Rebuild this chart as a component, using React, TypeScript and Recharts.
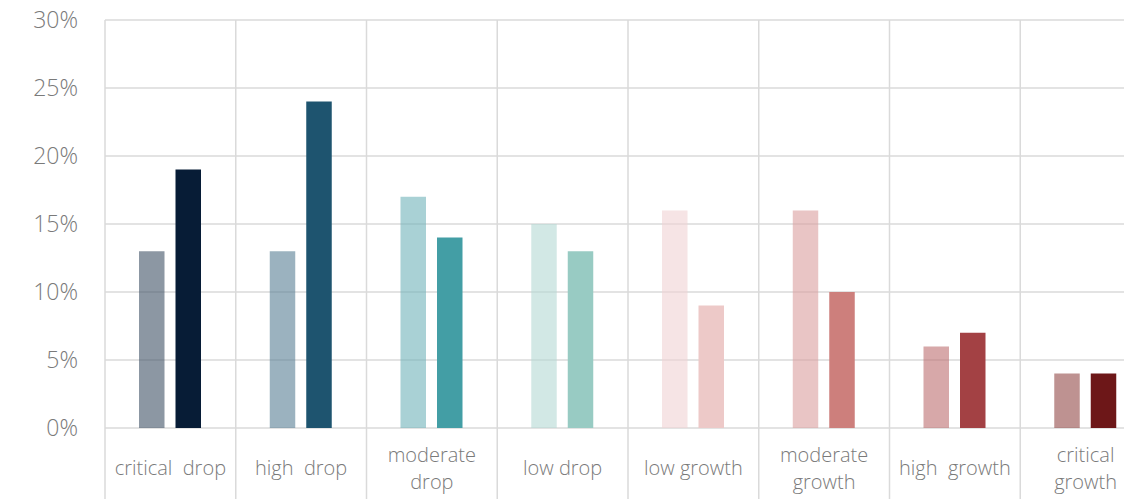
import React from "react";
import { BarChart, Bar, XAxis, YAxis, CartesianGrid, Cell } from "recharts";

const categories = [
  "critical drop",
  "high drop",
  "moderate drop",
  "low drop",
  "low growth",
  "moderate growth",
  "high growth",
  "critical growth",
];
const seriesA = [13, 13, 17, 15, 16, 16, 6, 4];
const seriesB = [19, 24, 14, 13, 9, 10, 7, 4];
const yTicks = [0, 5, 10, 15, 20, 25, 30];
const tickLabelLines: string[][] = [
  ["critical  drop"],
  ["high  drop"],
  ["moderate", "drop"],
  ["low drop"],
  ["low growth"],
  ["moderate", "growth"],
  ["high  growth"],
  ["critical", "growth"],
];

const colorsA = ["#3f5266", "#587f94", "#70b2b9", "#b4d9d4", "#f0d2d4", "#da9e9e", "#bc6e70", "#934948"];
const colorsB = ["#071c36", "#1e546f", "#439ea5", "#98cbc3", "#edc9c8", "#cd7f7c", "#a34144", "#6d1718"];

const data = categories.map((c, i) => ({ category: c, a: seriesA[i], b: seriesB[i] }));

const GRID = "#dadada";
const TEXT = "#7a7a7a";
const FONT = "'Open Sans', 'Noto Sans', sans-serif";

function CategoryTick(props: any) {
  const { x, y, payload } = props;
  const idx = categories.indexOf(payload?.value);
  const half = typeof payload?.offset === "number" && payload.offset > 0 ? payload.offset : 65.4;
  const lines = tickLabelLines[idx] || [String(payload?.value)];
  const single = lines.length === 1;
  return (
    <g>
      <line x1={x - half} y1={y} x2={x - half} y2={y + 90} stroke={GRID} strokeWidth={1.5} />
      <text
        x={x}
        textAnchor="middle"
        fill={TEXT}
        fontSize={20}
        fontFamily={FONT}
        fontWeight={300}
        style={{ whiteSpace: "pre" }}
      >
        {single ? (
          <tspan x={x} y={y + 47}>{lines[0]}</tspan>
        ) : (
          lines.map((l, i) => (
            <tspan key={i} x={x} y={y + 34 + i * 27}>
              {l}
            </tspan>
          ))
        )}
      </text>
    </g>
  );
}

const verticalGen = ({ xAxis, offset }: any) => {
  const s = xAxis?.scale;
  if (typeof s === "function" && typeof s.bandwidth === "function") {
    const bw = s.bandwidth();
    const pts = categories.map((c) => s(c));
    pts.push(s(categories[categories.length - 1]) + bw);
    if (pts.every((p) => typeof p === "number" && !isNaN(p))) return pts;
  }
  const w = offset.width / categories.length;
  return categories.map((_, i) => offset.left + i * w).concat([offset.left + offset.width]);
};

export default function App() {
  return (
    <div style={{ width: 1124, height: 499, overflow: "hidden" }}>
      <style>{`html,body{overflow:hidden;margin:0}`}</style>
      <BarChart
        width={1158}
        height={499}
        data={data}
        margin={{ top: 20, right: 7, bottom: 0, left: 8 }}
        barGap={11}
      >
        <CartesianGrid
          stroke={GRID}
          strokeWidth={1.5}
          verticalCoordinatesGenerator={verticalGen}
        />
        <XAxis
          dataKey="category"
          height={71}
          tickLine={false}
          axisLine={false}
          tickSize={0}
          tickMargin={0}
          interval={0}
          tick={<CategoryTick />}
        />
        <YAxis
          width={97}
          domain={[0, 30]}
          ticks={yTicks}
          tickFormatter={(v: number) => `${v}%`}
          tickLine={false}
          axisLine={false}
          tickSize={0}
          tickMargin={27}
          tick={{ fill: TEXT, fontSize: 23, fontFamily: FONT, fontWeight: 300 }}
        />
        <Bar dataKey="a" barSize={25.5} isAnimationActive={false}>
          {data.map((d, i) => (
            <Cell key={d.category} fill={colorsA[i]} fillOpacity={0.6} />
          ))}
        </Bar>
        <Bar dataKey="b" barSize={25.5} isAnimationActive={false}>
          {data.map((d, i) => (
            <Cell key={d.category} fill={colorsB[i]} />
          ))}
        </Bar>
      </BarChart>
    </div>
  );
}
